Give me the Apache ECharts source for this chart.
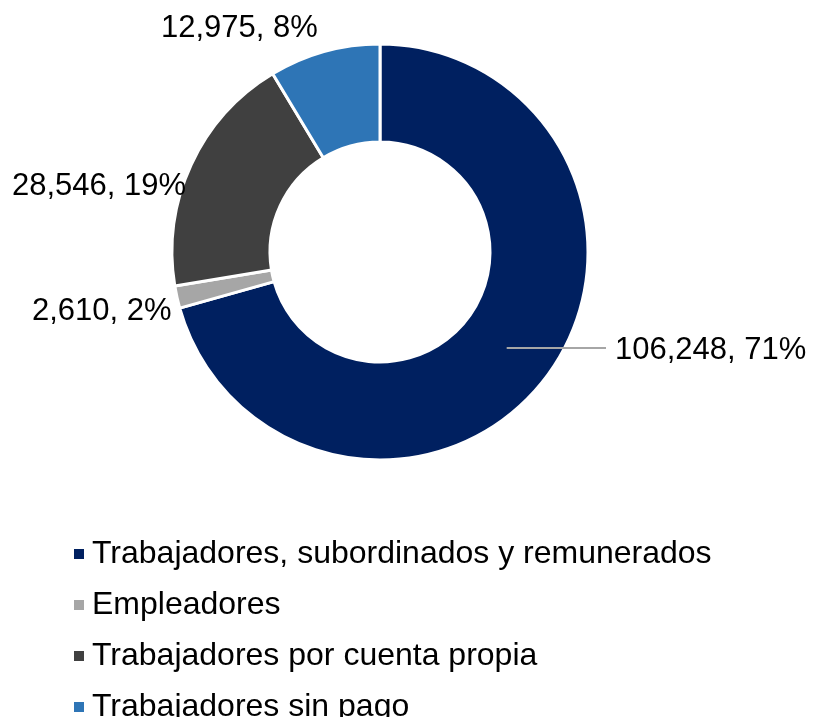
<!DOCTYPE html>
<html>
<head>
<meta charset="utf-8">
<script src="https://cdn.jsdelivr.net/npm/echarts@6/dist/echarts.min.js"></script>
<style>
html,body{margin:0;padding:0;background:#fff;}
#chart{width:817px;height:717px;}
</style>
</head>
<body>
<div id="chart"></div>
<script>
const categories = ["Trabajadores, subordinados y remunerados", "Empleadores", "Trabajadores por cuenta propia", "Trabajadores sin pago"];
const values = [106248, 2610, 28546, 12975];
const percents = [71, 2, 19, 8];
const colors = ["#002060", "#A6A6A6", "#404040", "#2E75B6"];

const CX = 380, CY = 252, R0 = 110, R1 = 208;
// label anchor positions (left x, middle y)
const labelPos = [[615, 350], [32, 311], [12, 186], [161, 28]];

const total = values.reduce((a, b) => a + b, 0);
function midPoint(i) {
  let before = 0;
  for (let k = 0; k < i; k++) before += values[k];
  const frac = (before + values[i] / 2) / total;
  const ang = frac * 2 * Math.PI; // clockwise from top
  const r = (R0 + R1) / 2;
  return [CX + r * Math.sin(ang), CY - r * Math.cos(ang)];
}
const lead = midPoint(0);

const chart = echarts.init(document.getElementById('chart'));
const fontFamily = '"Liberation Sans", Arial, sans-serif';
chart.setOption({
  animation: false,
  color: colors,
  legend: {
    orient: 'vertical',
    left: 67,
    top: 533,
    height: 300,
    icon: 'rect',
    itemWidth: 12,
    itemHeight: 12,
    itemGap: 19,
    textStyle: { fontSize: 32, color: '#000', fontFamily: fontFamily, padding: [0, 0, 0, 2] },
    data: categories
  },
  graphic: [{
    type: 'line',
    z: 100,
    silent: true,
    shape: { x1: lead[0], y1: lead[1], x2: labelPos[0][0] - 9, y2: lead[1] },
    style: { stroke: '#A6A6A6', lineWidth: 2 }
  }],
  series: [{
    type: 'pie',
    center: [CX, CY],
    radius: [R0, R1],
    startAngle: 90,
    clockwise: true,
    avoidLabelOverlap: false,
    itemStyle: { borderColor: '#fff', borderWidth: 3 },
    label: {
      show: true,
      position: 'outside',
      fontSize: 31,
      color: '#000',
      fontFamily: fontFamily,
      formatter: p => values[p.dataIndex].toLocaleString('en-US') + ', ' + percents[p.dataIndex] + '%'
    },
    labelLine: { show: false },
    labelLayout: function (params) {
      const i = params.dataIndex;
      return { x: labelPos[i][0], y: labelPos[i][1], align: 'left', verticalAlign: 'middle' };
    },
    emphasis: { disabled: true },
    data: categories.map((c, i) => ({ name: c, value: values[i] }))
  }]
});
</script>
</body>
</html>
